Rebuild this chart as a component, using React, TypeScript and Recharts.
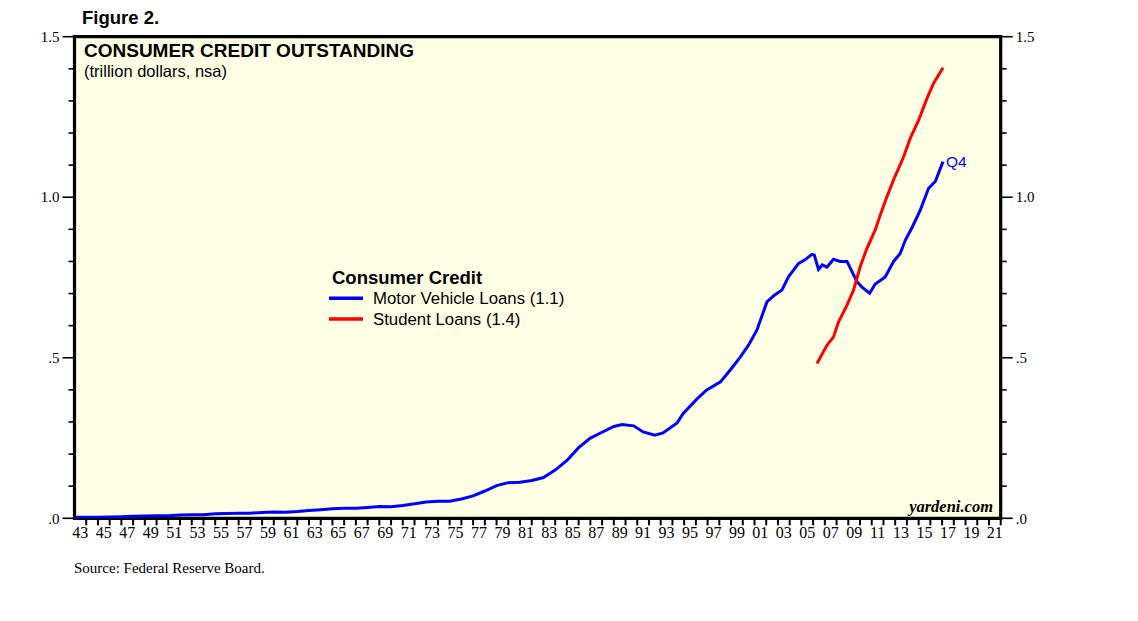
import React from 'react';
import { LineChart, Line, XAxis, YAxis, ReferenceArea } from 'recharts';

// Motor vehicle loans, trillion dollars
const mvYears = [
  1943, 1944, 1945, 1946, 1947, 1948, 1949, 1950, 1951, 1952, 1953, 1954, 1955, 1956, 1957, 1958,
  1959, 1960, 1961, 1962, 1963, 1964, 1965, 1966, 1967, 1968, 1969, 1970, 1971, 1972, 1973, 1974,
  1975, 1976, 1977, 1978, 1979, 1980, 1981, 1982, 1983, 1984, 1985, 1986, 1987, 1988, 1989,
  1989.7, 1990.7, 1991.5, 1992.5, 1993.2, 1994.4, 1994.9, 1996.1, 1996.9, 1998.1, 1999, 1999.8,
  2000.5, 2001.2, 2002.06, 2002.7, 2003.34, 2003.9, 2004.76, 2005.3, 2005.9, 2006.1, 2006.46,
  2006.78, 2007.18, 2007.74, 2008.3, 2008.89, 2009.74, 2010.17, 2010.82, 2011.3, 2012.15, 2012.86,
  2013.43, 2013.86, 2014.43, 2015.14, 2015.85, 2016.42, 2017.08,
];
const mvValues = [
  0.003, 0.003, 0.003, 0.004, 0.005, 0.006, 0.007, 0.008, 0.008, 0.01, 0.011, 0.011, 0.014, 0.015, 0.016, 0.016,
  0.018, 0.02, 0.019, 0.021, 0.024, 0.027, 0.03, 0.031, 0.031, 0.034, 0.037, 0.036, 0.04, 0.045, 0.051, 0.053,
  0.053, 0.06, 0.07, 0.085, 0.102, 0.111, 0.112, 0.118, 0.127, 0.15, 0.18, 0.22, 0.25, 0.268, 0.286,
  0.292, 0.288, 0.269, 0.259, 0.266, 0.297, 0.326, 0.372, 0.399, 0.425, 0.465, 0.503,
  0.54, 0.586, 0.674, 0.695, 0.711, 0.752, 0.794, 0.805, 0.822, 0.82, 0.775,
  0.789, 0.782, 0.807, 0.8, 0.8, 0.737, 0.72, 0.701, 0.73, 0.752, 0.8,
  0.825, 0.866, 0.905, 0.96, 1.028, 1.049, 1.111,
];

// Student loans, trillion dollars
const slYears = [
  2006.33, 2007.18, 2007.74, 2008.17, 2008.89, 2009.45, 2010.02, 2010.59, 2011.3, 2011.73,
  2012.3, 2012.86, 2013.72, 2014.29, 2015.0, 2015.71, 2016.28, 2017.08,
];
const slValues = [
  0.482, 0.539, 0.565, 0.612, 0.664, 0.711, 0.784, 0.841, 0.898, 0.945,
  1.002, 1.054, 1.126, 1.184, 1.24, 1.308, 1.355, 1.403,
];

// tick marks on every year boundary; labelled years are the odd ones
const xMarkYears = Array.from({ length: 79 }, (_, i) => 1944 + i);
const xLabelYears = [
  1943, 1945, 1947, 1949, 1951, 1953, 1955, 1957, 1959, 1961, 1963, 1965, 1967, 1969, 1971, 1973,
  1975, 1977, 1979, 1981, 1983, 1985, 1987, 1989, 1991, 1993, 1995, 1997, 1999, 2001, 2003, 2005,
  2007, 2009, 2011, 2013, 2015, 2017, 2019, 2021,
];
const yTicks = [0, 0.1, 0.2, 0.3, 0.4, 0.5, 0.6, 0.7, 0.8, 0.9, 1.0, 1.1, 1.2, 1.3, 1.4, 1.5];

const mvData = mvYears.map((year, i) => ({ year, v: mvValues[i] }));
const slData = slYears.map((year, i) => ({ year, v: slValues[i] }));

const W = 1138;
const H = 621;
const MARGIN = { top: 36.7, right: 77.3, bottom: 72.7, left: 14.5 };
const Y_AXIS_W = 60;
const X_DOMAIN: [number, number] = [1943, 2022];
const PX_PER_YEAR = (W - MARGIN.left - MARGIN.right - 2 * Y_AXIS_W) / (X_DOMAIN[1] - X_DOMAIN[0]);

const SERIF = '"Liberation Serif", "Times New Roman", serif';
const SANS = '"Liberation Sans", Arial, sans-serif';
const BG = '#FFFFE6';

const yLabel = (v: number) => {
  const s = v.toFixed(1);
  return v < 1 ? s.slice(1) : s;
};

const YTick = (props: any) => {
  const { x, y, payload, side } = props;
  const v = payload.value as number;
  const major = Math.abs(v * 2 - Math.round(v * 2)) < 1e-6;
  const dir = side === 'left' ? -1 : 1;
  const len = major ? 12 : 6;
  return (
    <g>
      <line x1={x} x2={x + dir * len} y1={y} y2={y} stroke="#000" strokeWidth={1.6} />
      {major && (
        <text
          x={x + dir * 15}
          y={y}
          dy="0.35em"
          textAnchor={side === 'left' ? 'end' : 'start'}
          fontFamily={SERIF}
          fontSize={15}
          fill="#000"
        >
          {yLabel(v)}
        </text>
      )}
    </g>
  );
};

// a mark on the boundary, and the label of the year that ends there centred in its interval
const XTick = (props: any) => {
  const { x, y, payload } = props;
  const yearBefore = (payload.value as number) - 1;
  const labelled = xLabelYears.includes(yearBefore);
  return (
    <g>
      <line x1={x} x2={x} y1={y} y2={y + 7} stroke="#000" strokeWidth={2} />
      {labelled && (
        <text
          x={x - PX_PER_YEAR / 2}
          y={y + 19.5}
          textAnchor="middle"
          fontFamily={SERIF}
          fontSize={16}
          fill="#000"
        >
          {String(yearBefore % 100).padStart(2, '0')}
        </text>
      )}
    </g>
  );
};

export default function App() {
  return (
    <div style={{ position: 'absolute', left: 0, top: 0, width: W, height: H, background: '#fff' }}>
      <LineChart width={W} height={H} margin={MARGIN}>
        <XAxis
          xAxisId="x"
          type="number"
          dataKey="year"
          domain={X_DOMAIN}
          ticks={xMarkYears}
          interval={0}
          tickLine={false}
          axisLine={false}
          tickSize={0}
          tickMargin={0}
          height={30}
          tick={(p: any) => <XTick {...p} />}
          allowDataOverflow
        />
        <YAxis
          yAxisId="left"
          orientation="left"
          width={Y_AXIS_W}
          domain={[0, 1.5]}
          ticks={yTicks}
          interval={0}
          tickLine={false}
          axisLine={false}
          tickSize={0}
          tickMargin={0}
          tick={(p: any) => <YTick {...p} side="left" />}
          allowDataOverflow
        />
        <YAxis
          yAxisId="right"
          orientation="right"
          width={Y_AXIS_W}
          domain={[0, 1.5]}
          ticks={yTicks}
          interval={0}
          tickLine={false}
          axisLine={false}
          tickSize={0}
          tickMargin={0}
          tick={(p: any) => <YTick {...p} side="right" />}
          allowDataOverflow
        />
        <ReferenceArea
          xAxisId="x"
          yAxisId="left"
          x1={X_DOMAIN[0]}
          x2={X_DOMAIN[1]}
          y1={0}
          y2={1.5}
          fill={BG}
          fillOpacity={1}
          stroke="#000"
          strokeWidth={3.2}
        />
        <Line
          xAxisId="x"
          yAxisId="left"
          data={mvData}
          dataKey="v"
          type="linear"
          stroke="#0000FF"
          strokeWidth={3}
          dot={false}
          isAnimationActive={false}
        />
        <Line
          xAxisId="x"
          yAxisId="left"
          data={slData}
          dataKey="v"
          type="linear"
          stroke="#FF0000"
          strokeWidth={3}
          dot={false}
          isAnimationActive={false}
        />
      </LineChart>
      <svg
        width={W}
        height={H}
        style={{ position: 'absolute', left: 0, top: 0, pointerEvents: 'none' }}
      >
        <text x={82} y={24} fontFamily={SANS} fontWeight="bold" fontSize={18.5} fill="#000">
          Figure 2.
        </text>
        <text x={84} y={57} fontFamily={SANS} fontWeight="bold" fontSize={19} fill="#000">
          CONSUMER CREDIT OUTSTANDING
        </text>
        <text x={84} y={77} fontFamily={SANS} fontSize={16.5} fill="#000">
          (trillion dollars, nsa)
        </text>
        <text x={332} y={284} fontFamily={SANS} fontWeight="bold" fontSize={18.5} fill="#000">
          Consumer Credit
        </text>
        <line x1={329} x2={363} y1={298.3} y2={298.3} stroke="#0000FF" strokeWidth={3.5} />
        <text x={373} y={304} fontFamily={SANS} fontSize={16.8} fill="#000">
          Motor Vehicle Loans (1.1)
        </text>
        <line x1={329} x2={363} y1={319} y2={319} stroke="#FF0000" strokeWidth={3.5} />
        <text x={373} y={325} fontFamily={SANS} fontSize={16.8} fill="#000">
          Student Loans (1.4)
        </text>
        <text x={946} y={167} fontFamily={SANS} fontSize={15.5} fill="#0000FF">
          Q4
        </text>
        <text
          x={993}
          y={512}
          textAnchor="end"
          fontFamily={SERIF}
          fontWeight="bold"
          fontStyle="italic"
          fontSize={16.5}
          fill="#000"
        >
          yardeni.com
        </text>
        <text x={74} y={573} fontFamily={SERIF} fontSize={15} fill="#000">
          Source: Federal Reserve Board.
        </text>
      </svg>
    </div>
  );
}
